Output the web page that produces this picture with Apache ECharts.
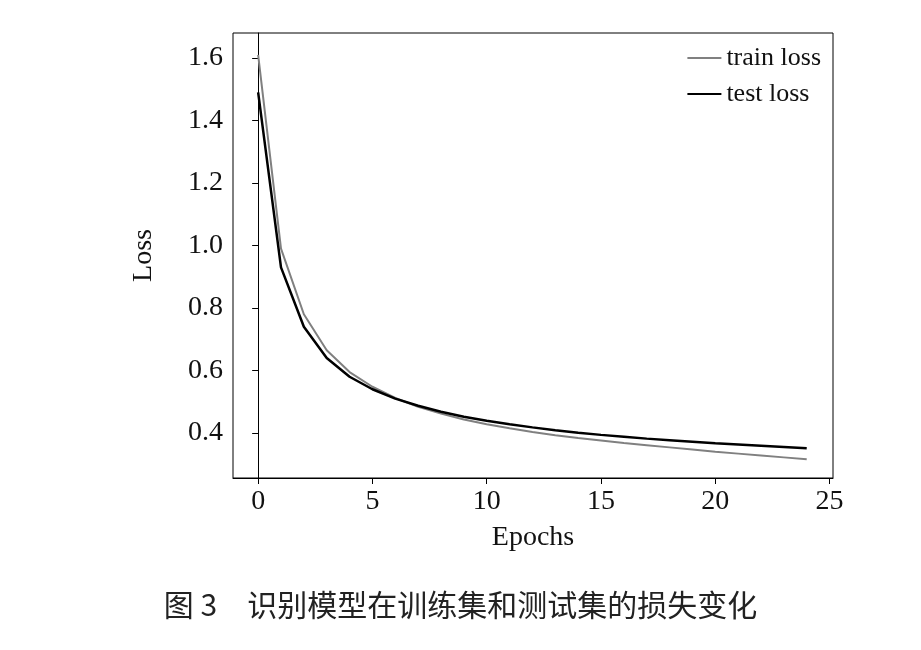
<!DOCTYPE html>
<html><head><meta charset="utf-8">
<script src="https://cdn.jsdelivr.net/npm/echarts@6/dist/echarts.min.js"></script>
<style>body{margin:0;background:#fff}#c{width:921px;height:650px}</style></head>
<body><div id="c"></div>
<script>
const epochs=[0,1,2,3,4,5,6,7,8,9,10,11,12,13,14,15,16,17,18,19,20,21,22,23,24];
const trainLoss=[1.61,0.99,0.78,0.665,0.595,0.548,0.512,0.484,0.462,0.443,0.428,0.415,0.403,0.393,0.384,0.376,0.368,0.361,0.354,0.347,0.340,0.334,0.328,0.322,0.316];
const testLoss=[1.49,0.93,0.74,0.64,0.58,0.54,0.51,0.487,0.468,0.452,0.439,0.428,0.418,0.409,0.401,0.394,0.388,0.382,0.377,0.372,0.367,0.363,0.359,0.355,0.351];
const xTicks=[0,5,10,15,20,25];
const yTicks=[0.4,0.6,0.8,1.0,1.2,1.4,1.6];
const F='"Liberation Serif","DejaVu Serif",serif';
const ax={lineStyle:{color:'#000',width:1}};
const chart=echarts.init(document.getElementById('c'));
chart.setOption({
  animation:false,
  grid:{left:233,right:88,top:33,bottom:172},
  title:{text:'图 3　识别模型在训练集和测试集的损失变化',left:'center',top:585,textStyle:{fontFamily:'"Noto Sans CJK SC"',fontSize:30,fontWeight:'normal',color:'#222'}},
  legend:{right:95,top:40,orient:'vertical',itemWidth:34,itemHeight:2,itemGap:10,icon:'rect',textStyle:{fontFamily:F,fontSize:26,color:'#111'},data:['train loss','test loss']},
  xAxis:{type:'value',min:-1.1,max:25.15,name:'Epochs',nameLocation:'middle',nameGap:46,nameTextStyle:{fontFamily:F,fontSize:28,color:'#111'},
    axisLine:ax,splitLine:{show:false},axisTick:{customValues:xTicks,length:6,lineStyle:{color:'#000'}},
    axisLabel:{customValues:xTicks,fontFamily:F,fontSize:28,color:'#111',margin:10}},
  yAxis:{type:'value',min:0.256,max:1.68,name:'Loss',nameLocation:'middle',nameGap:75,nameTextStyle:{fontFamily:F,fontSize:28,color:'#111'},
    axisLine:{show:true,lineStyle:{color:'#000',width:1}},splitLine:{show:false},axisTick:{show:true,customValues:yTicks,length:6,lineStyle:{color:'#000'}},
    axisLabel:{customValues:yTicks,fontFamily:F,fontSize:28,color:'#111',margin:10,formatter:v=>v.toFixed(1)}},
  graphic:[{type:'rect',shape:{x:233,y:33,width:600,height:445},style:{fill:'none',stroke:'#000',lineWidth:1},silent:true}],
  series:[
    {name:'train loss',type:'line',data:epochs.map((e,i)=>[e,trainLoss[i]]),showSymbol:false,lineStyle:{color:'#808080',width:2},itemStyle:{color:'#808080'}},
    {name:'test loss',type:'line',data:epochs.map((e,i)=>[e,testLoss[i]]),showSymbol:false,lineStyle:{color:'#000',width:2.5},itemStyle:{color:'#000'}}
  ]
});
</script></body></html>
